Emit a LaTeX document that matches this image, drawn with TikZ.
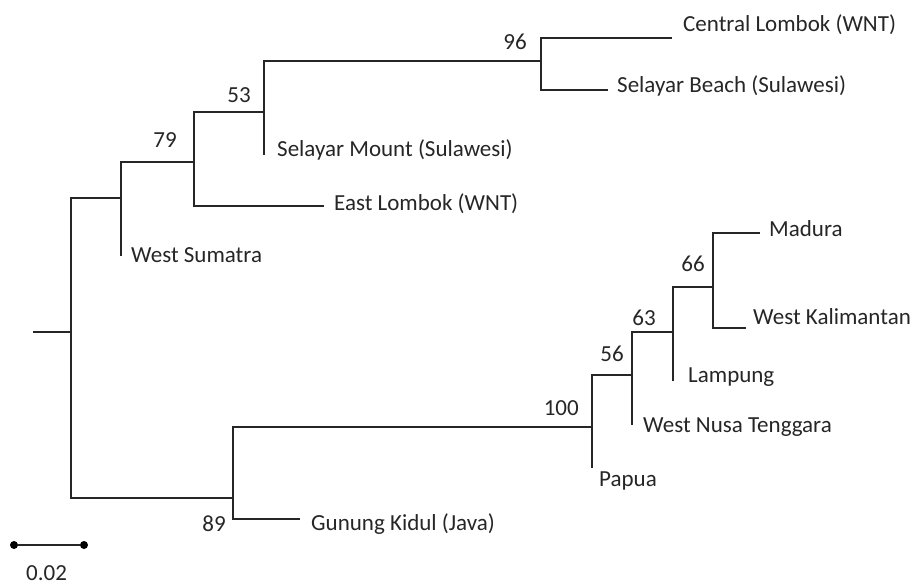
\documentclass[tikz,border=0pt]{standalone}
\usepackage{fontspec}
\setmainfont{Carlito}
\begin{document}
\begin{tikzpicture}[x=1pt,y=-1pt,
  branch/.style={draw=black!85,line width=1.3pt},
  leaf/.style={anchor=base west,inner sep=0pt,text=black!85,font=\fontsize{23}{27}\selectfont},
  boot/.style={anchor=base east,inner sep=0pt,text=black!85,font=\fontsize{23}{27}\selectfont},
  dot/.style={circle,fill=black,inner sep=0pt,minimum size=8pt}]
\useasboundingbox (0,0) rectangle (916,585);
% internal nodes
\coordinate (root) at (33,332);
\coordinate (n1) at (71,332);
\coordinate (n2) at (121,198);
\coordinate (n3) at (194,162);
\coordinate (n4) at (264,112);
\coordinate (n5) at (541,61);
\coordinate (m1) at (233,498);
\coordinate (m2) at (592,427);
\coordinate (m3) at (632,375);
\coordinate (m4) at (673,332);
\coordinate (m5) at (713,287);
% leaf ends
\coordinate (lCL) at (672,38);
\coordinate (lSB) at (608,90);
\coordinate (lSM) at (264,155);
\coordinate (lEL) at (324,206);
\coordinate (lWS) at (121,256);
\coordinate (lMa) at (760,233);
\coordinate (lWK) at (746,328);
\coordinate (lLa) at (673,381);
\coordinate (lWN) at (632,425);
\coordinate (lPa) at (592,468);
\coordinate (lGK) at (300,519);
% branches
\draw[branch] (root) -- (n1);
\draw[branch] (n1) |- (n2);
\draw[branch] (n1) |- (m1);
\draw[branch] (n2) |- (n3);
\draw[branch] (n2) |- (lWS);
\draw[branch] (n3) |- (n4);
\draw[branch] (n3) |- (lEL);
\draw[branch] (n4) |- (n5);
\draw[branch] (n4) |- (lSM);
\draw[branch] (n5) |- (lCL);
\draw[branch] (n5) |- (lSB);
\draw[branch] (m1) |- (m2);
\draw[branch] (m1) |- (lGK);
\draw[branch] (m2) |- (m3);
\draw[branch] (m2) |- (lPa);
\draw[branch] (m3) |- (m4);
\draw[branch] (m3) |- (lWN);
\draw[branch] (m4) |- (m5);
\draw[branch] (m4) |- (lLa);
\draw[branch] (m5) |- (lMa);
\draw[branch] (m5) |- (lWK);
% leaf labels
\node[leaf] (tCL) at (683,32) {Central Lombok (WNT)};
\node[leaf] (tSB) at (617,93) {Selayar Beach (Sulawesi)};
\node[leaf] (tSM) at (277,157) {Selayar Mount (Sulawesi)};
\node[leaf] (tEL) at (334,211) {East Lombok (WNT)};
\node[leaf] (tWS) at (131,263) {West Sumatra};
\node[leaf] (tMa) at (769,237) {Madura};
\node[leaf] (tWK) at (753,325) {West Kalimantan};
\node[leaf] (tLa) at (688,383) {Lampung};
\node[leaf] (tWN) at (643,432) {West Nusa Tenggara};
\node[leaf] (tPa) at (599,486) {Papua};
\node[leaf] (tGK) at (311,530) {Gunung Kidul (Java)};
% bootstrap values
\node[boot] (b96) at (527,50) {96};
\node[boot] (b53) at (251,103) {53};
\node[boot] (b79) at (177,148) {79};
\node[boot] (b66) at (705,272) {66};
\node[boot] (b63) at (656,326) {63};
\node[boot] (b56) at (624,362) {56};
\node[boot] (b100) at (579,415) {100};
\node[boot] (b89) at (226,531) {89};
% scale bar
\node[dot] (sbL) at (14,545) {};
\node[dot] (sbR) at (84,545) {};
\draw[branch] (sbL) -- (sbR);
\node[leaf] (sbT) at (26,580) {0.02};
\end{tikzpicture}
\end{document}
